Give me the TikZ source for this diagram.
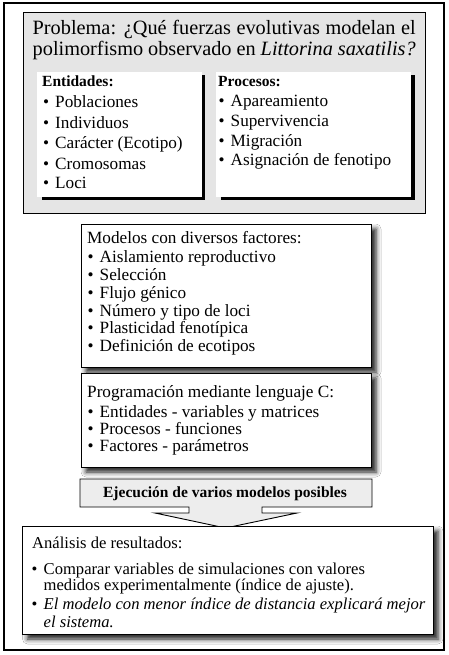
\documentclass[tikz,border=0pt]{standalone}
\usepackage{fontspec}
\setmainfont{Liberation Serif}
\usetikzlibrary{shadows.blur}
\newcommand\myitem[1]{\makebox[12pt][l]{\textbullet}#1}
\begin{document}
\begin{tikzpicture}[x=1pt,y=-1pt,
  txt/.style={anchor=base west,inner sep=0pt,font=\fontsize{17.2}{17}\selectfont},
  atxt/.style={anchor=base west,inner sep=0pt,font=\fontsize{16.6}{17}\selectfont},
  ttxt/.style={anchor=base west,inner sep=0pt,font=\fontsize{20.3}{21}\selectfont},
  btxt/.style={anchor=base west,inner sep=0pt,font=\fontsize{15.5}{16}\selectfont\bfseries},
  softshadow/.style={blur shadow={shadow xshift=5pt,shadow yshift=-5pt,shadow blur radius=5pt,shadow opacity=90}},
  whitebox/.style={draw=black,line width=1pt,fill=white,softshadow},
  graybox/.style={draw=black,line width=0.9pt,fill=black!10},
  arrowbox/.style={draw=black,line width=0.9pt,fill=black!7}]
\useasboundingbox (0,0) rectangle (448,655);
\fill[white] (0,0) rectangle (448,655);
% outer frame
\draw[line width=2pt] (3.5,3.5) rectangle (443.5,649.5);
% problem box
\path[graybox] (23,12) rectangle (425,213);
\node[ttxt] (t1) at (32.5,35) {\makebox[383pt][s]{Problema: ¿Qué fuerzas evolutivas modelan el}};
\node[ttxt] (t2) at (32.5,56) {\makebox[383pt][s]{polimorfismo observado en \textit{Littorina saxatilis?}}};
% entidades
\fill[black] (41.5,75) rectangle (204.5,199.5);
\fill[white] (37,72) rectangle (201.5,196.5);
\node[btxt] (e0) at (42,87) {Entidades:};
\node[txt] (e1) at (43,108) {\myitem{Poblaciones}};
\node[txt] (e2) at (43,128.5) {\myitem{Individuos}};
\node[txt] (e3) at (43,149) {\myitem{Carácter (Ecotipo)}};
\node[txt] (e4) at (43,169) {\myitem{Cromosomas}};
\node[txt] (e5) at (43,189) {\myitem{Loci}};
% procesos
\fill[black] (221,75) rectangle (414.5,199.5);
\fill[white] (215.5,72) rectangle (410.5,196.5);
\node[btxt] (p0) at (218,87) {Procesos:};
\node[txt] (p1) at (218.5,107) {\myitem{Apareamiento}};
\node[txt] (p2) at (218.5,127) {\myitem{Supervivencia}};
\node[txt] (p3) at (218.5,146.5) {\myitem{Migración}};
\node[txt] (p4) at (218.5,166) {\myitem{Asignación de fenotipo}};
% modelos
\path[whitebox] (81,224) rectangle (371,367);
\node[txt] (m0) at (87,243) {Modelos con diversos factores:};
\node[txt] (m1) at (87.5,262) {\myitem{Aislamiento reproductivo}};
\node[txt] (m2) at (87.5,280) {\myitem{Selección}};
\node[txt] (m3) at (87.5,298) {\myitem{Flujo génico}};
\node[txt] (m4) at (87.5,316) {\myitem{Número y tipo de loci}};
\node[txt] (m5) at (87.5,333.5) {\myitem{Plasticidad fenotípica}};
\node[txt] (m6) at (87.5,351) {\myitem{Definición de ecotipos}};
% programacion
\path[whitebox] (81,373) rectangle (371,467);
\node[txt] (c0) at (87,397) {Programación mediante lenguaje C:};
\node[txt] (c1) at (87.5,417) {\myitem{Entidades - variables y matrices}};
\node[txt] (c2) at (87.5,434) {\myitem{Procesos - funciones}};
\node[txt] (c3) at (87.5,451) {\myitem{Factores - parámetros}};
% ejecucion arrow
\path[arrowbox] (80,479) -- (372,479) -- (372,507) -- (262,507) -- (262,513)
  -- (297,513) -- (225.5,528) -- (155,513) -- (189,513) -- (189,507) -- (80,507) -- cycle;
\node[btxt,anchor=base] (x0) at (225,497) {Ejecución de varios modelos posibles};
% analisis
\path[whitebox] (22.5,526) rectangle (433,634);
\node[atxt] (a0) at (32,548) {Análisis de resultados:};
\node[atxt] (a1) at (31.5,574) {\myitem{Comparar variables de simulaciones con valores}};
\node[atxt] (a2) at (43.5,590.5) {medidos experimentalmente (índice de ajuste).};
\node[atxt] (a3) at (31.5,609) {\myitem{\textit{El modelo con menor índice de distancia explicará mejor}}};
\node[atxt] (a4) at (43.5,627) {\textit{el sistema.}};
\end{tikzpicture}
\end{document}
